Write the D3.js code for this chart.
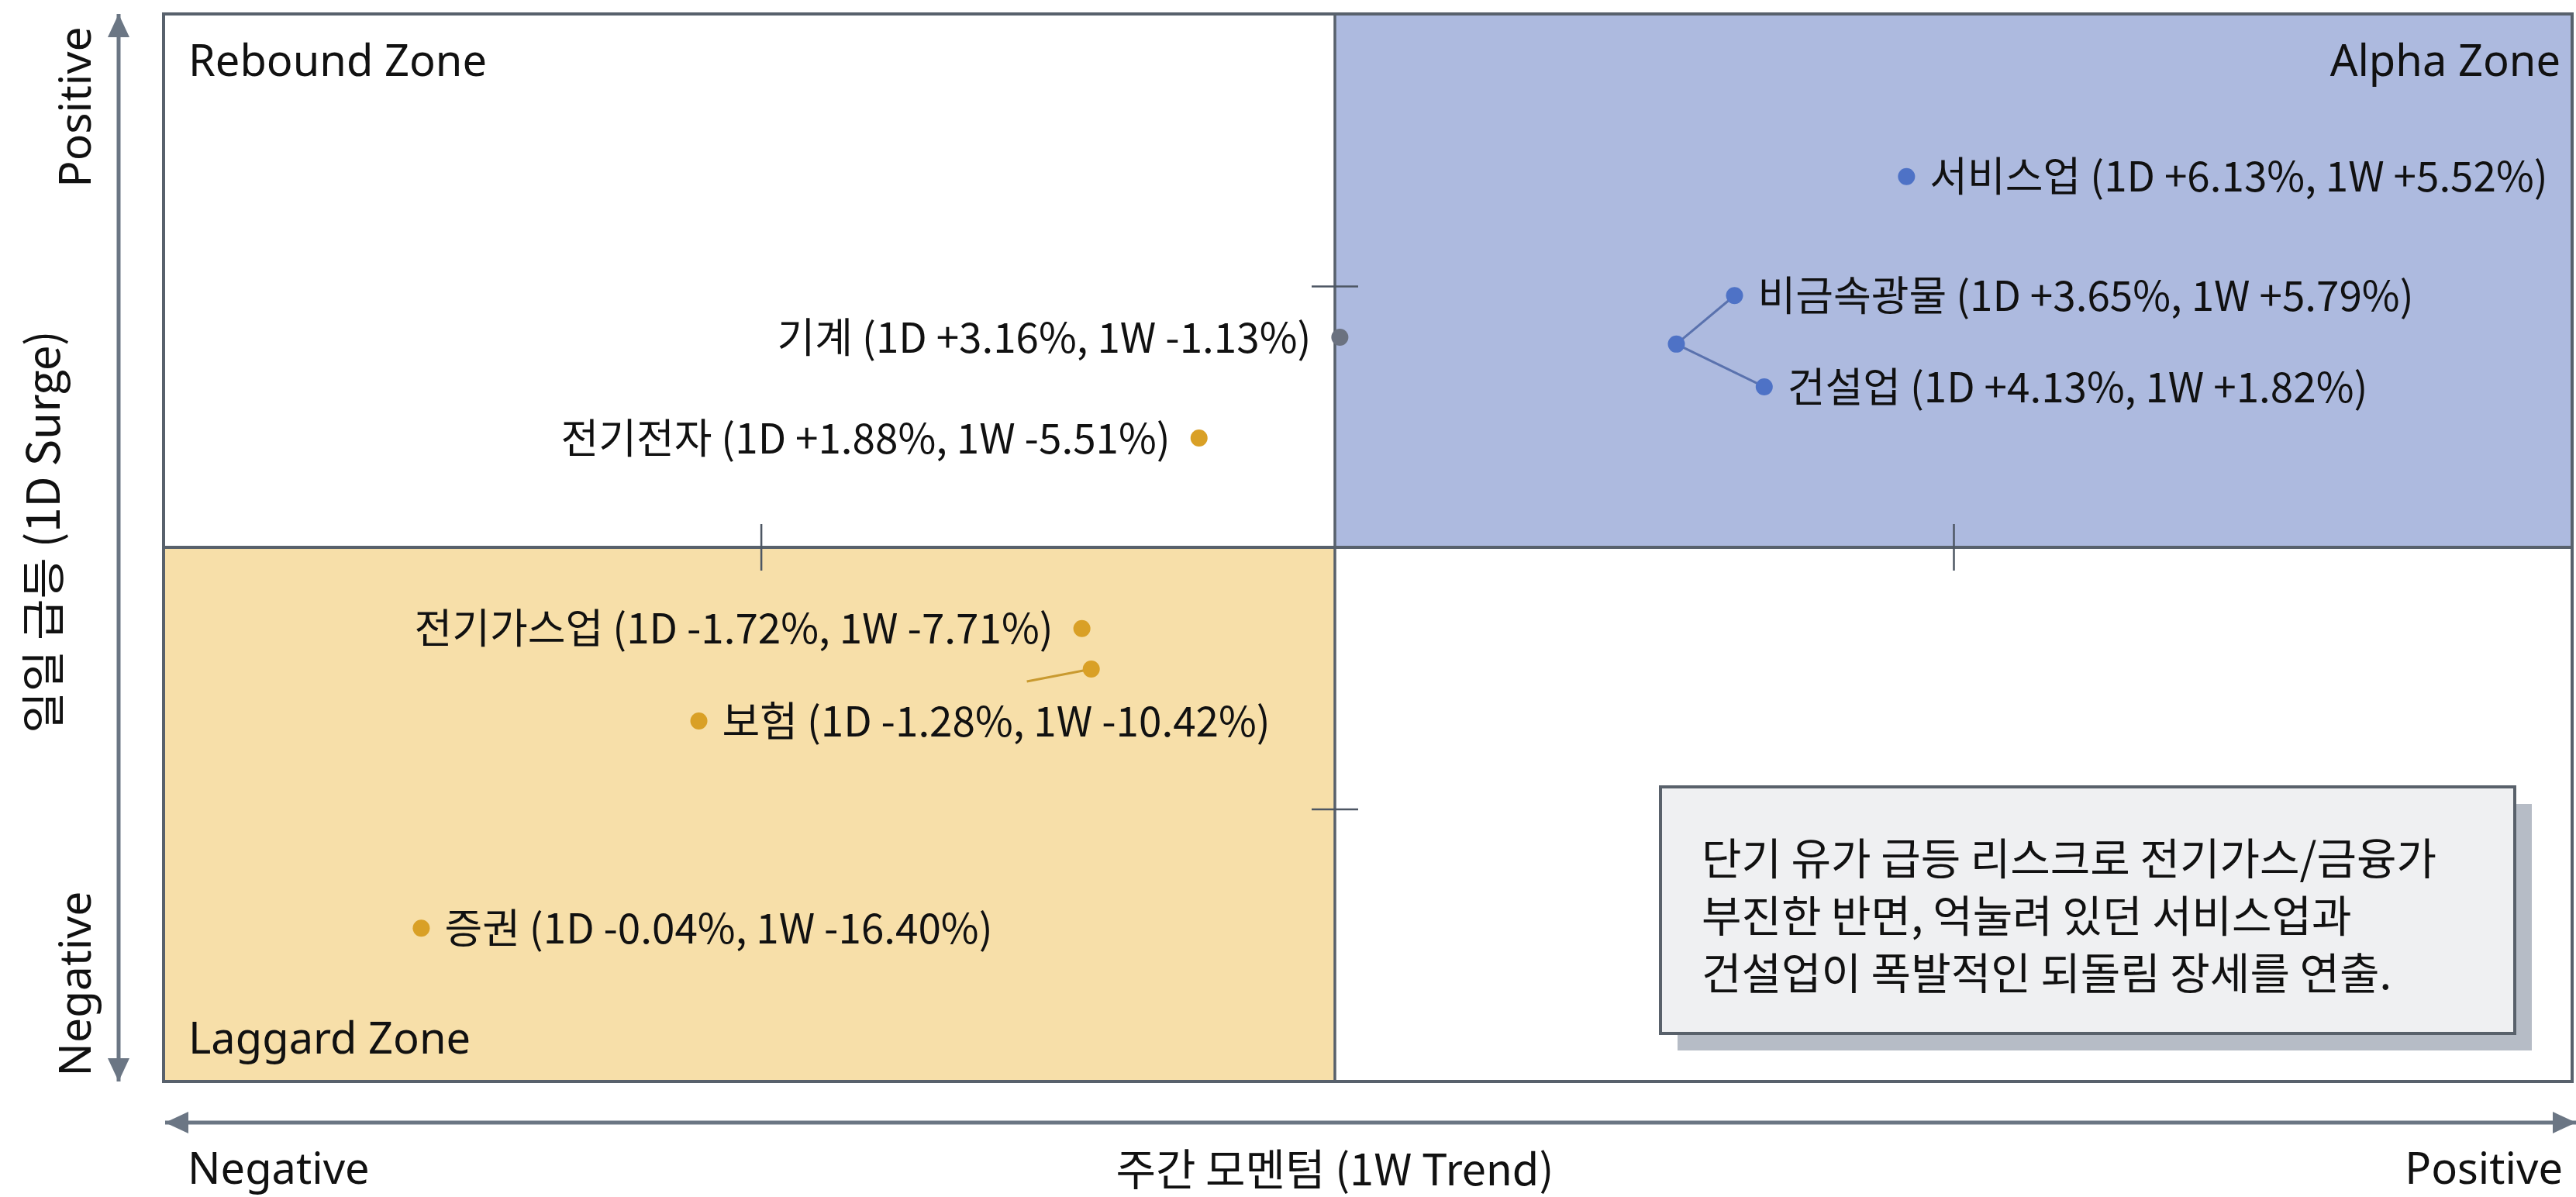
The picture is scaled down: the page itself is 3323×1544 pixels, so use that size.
<!DOCTYPE html>
<html>
<head>
<meta charset="utf-8">
<script src="https://cdn.jsdelivr.net/npm/d3@7"></script>
<style>
  body { margin: 0; background: #fff; }
</style>
</head>
<body>
<script>
// sector moves shown in the labels
const sectors = ["서비스업", "비금속광물", "건설업", "기계", "전기전자", "전기가스업", "보험", "증권"];
const oneDay  = ["+6.13", "+3.65", "+4.13", "+3.16", "+1.88", "-1.72", "-1.28", "-0.04"];
const oneWeek = ["+5.52", "+5.79", "+1.82", "-1.13", "-5.51", "-7.71", "-10.42", "-16.40"];

// where each marker sits on the map, in quadrant units (-1..1, 0 = divider)
const trendPos = [0.462, 0.323, 0.347, 0.004, -0.116, -0.216, -0.208, -0.780];
const surgePos = [0.695, 0.472, 0.301, 0.394, 0.205, -0.152, -0.228, -0.713];
const labelSide = ["right", "right", "right", "left", "left", "left", "right", "right"];
const tone = ["alpha", "alpha", "alpha", "flat", "lag", "lag", "lag", "lag"];

// 보험 is labelled away from its marker (bullet + short leader)
const labelTrend = [null, null, null, null, null, null, -0.543, null];
const labelSurge = [null, null, null, null, null, null, -0.325, null];
const leaderEnd = [null, null, null, null, null, null, [-0.263, -0.251], null];

// 비금속광물 / 건설업 share a callout joint
const jointPos = [0.276, 0.381];
const jointLinks = [1, 2];

const zoneNames = ["Rebound Zone", "Alpha Zone", "Laggard Zone"];
const quarterTicks = [-0.49, 0.5];
const axisWords = ["Negative", "Positive"];
const xTitle = "주간 모멘텀 (1W Trend)";
const yTitle = "일일 급등 (1D Surge)";
const noteLines = [
  "단기 유가 급등 리스크로 전기가스/금융가",
  "부진한 반면, 억눌려 있던 서비스업과",
  "건설업이 폭발적인 되돌림 장세를 연출."
];

const W = 3323, H = 1544;
const ink = "#111";
const lineCol = "#58616c";
const arrowCol = "#6b7684";
const toneColor = { alpha: "#4e72c6", flat: "#6b7280", lag: "#d9a026" };
const linkColor = { alpha: "#5a72ae", lag: "#c99a30" };
const latin = "'Noto Sans', 'Open Sans', sans-serif";
const korean = "'Noto Sans CJK KR', 'Noto Sans', sans-serif";

const svg = d3.select("body").append("svg")
  .attr("width", W)
  .attr("height", H)
  .attr("style", "background:white;");

const x = d3.scaleLinear().domain([-1, 0, 1]).range([211, 1722, 3318]);
const y = d3.scaleLinear().domain([-1, 0, 1]).range([1395, 706, 18]);

// quadrant fills
svg.append("rect")
  .attr("x", x(0)).attr("y", y(1))
  .attr("width", x(1) - x(0)).attr("height", y(0) - y(1))
  .attr("fill", "#adbadf");
svg.append("rect")
  .attr("x", x(-1)).attr("y", y(0))
  .attr("width", x(0) - x(-1)).attr("height", y(-1) - y(0))
  .attr("fill", "#f7dfa9");

// dividers + frame
svg.append("line")
  .attr("x1", x(-1)).attr("x2", x(1)).attr("y1", y(0)).attr("y2", y(0))
  .attr("stroke", lineCol).attr("stroke-width", 4);
svg.append("line")
  .attr("x1", x(0)).attr("x2", x(0)).attr("y1", y(1)).attr("y2", y(-1))
  .attr("stroke", lineCol).attr("stroke-width", 3.5);
svg.append("rect")
  .attr("x", x(-1)).attr("y", y(1))
  .attr("width", x(1) - x(-1)).attr("height", y(-1) - y(1))
  .attr("fill", "none").attr("stroke", lineCol).attr("stroke-width", 4);

// quarter ticks across the dividers
svg.append("g")
  .attr("transform", `translate(0,${y(0) - 30})`)
  .call(d3.axisBottom(x).tickValues(quarterTicks).tickSize(60).tickFormat(""))
  .call(g => g.select(".domain").remove())
  .call(g => g.selectAll("line").attr("stroke", "#4d5663").attr("stroke-width", 2.5));
svg.append("g")
  .attr("transform", `translate(${x(0) - 30},0)`)
  .call(d3.axisRight(y).tickValues([-0.49, 0.49]).tickSize(60).tickFormat(""))
  .call(g => g.select(".domain").remove())
  .call(g => g.selectAll("line").attr("stroke", "#4d5663").attr("stroke-width", 2.5));

// double-headed axis arrows
svg.append("defs").append("marker")
  .attr("id", "head")
  .attr("viewBox", "0 0 30 28")
  .attr("refX", 30).attr("refY", 14)
  .attr("markerWidth", 30).attr("markerHeight", 28)
  .attr("markerUnits", "userSpaceOnUse")
  .attr("orient", "auto-start-reverse")
  .append("path").attr("d", "M0,0L30,14L0,28Z").attr("fill", arrowCol);

svg.append("line")
  .attr("x1", 153).attr("x2", 153).attr("y1", y(1)).attr("y2", y(-1))
  .attr("stroke", arrowCol).attr("stroke-width", 5)
  .attr("marker-start", "url(#head)").attr("marker-end", "url(#head)");
svg.append("line")
  .attr("x1", x(-1) + 2).attr("x2", W).attr("y1", 1448).attr("y2", 1448)
  .attr("stroke", arrowCol).attr("stroke-width", 5)
  .attr("marker-start", "url(#head)").attr("marker-end", "url(#head)");

// zone names
svg.append("text").attr("x", x(-1) + 32).attr("y", 98)
  .attr("font-family", latin).attr("font-size", 56).attr("fill", ink)
  .text(zoneNames[0]);
svg.append("text").attr("x", x(1) - 15).attr("y", 98).attr("text-anchor", "end")
  .attr("font-family", latin).attr("font-size", 56).attr("fill", ink)
  .text(zoneNames[1]);
svg.append("text").attr("x", x(-1) + 32).attr("y", 1359)
  .attr("font-family", latin).attr("font-size", 56).attr("fill", ink)
  .text(zoneNames[2]);

// axis words
svg.append("text")
  .attr("transform", "translate(117,138) rotate(-90)").attr("text-anchor", "middle")
  .attr("font-family", latin).attr("font-size", 57).attr("fill", ink)
  .text(axisWords[1]);
svg.append("text")
  .attr("transform", "translate(117,1269) rotate(-90)").attr("text-anchor", "middle")
  .attr("font-family", latin).attr("font-size", 57).attr("fill", ink)
  .text(axisWords[0]);
svg.append("text")
  .attr("transform", "translate(77,686) rotate(-90)").attr("text-anchor", "middle")
  .attr("font-family", korean).attr("font-size", 58).attr("fill", ink)
  .text(yTitle);
svg.append("text").attr("x", 242).attr("y", 1527)
  .attr("font-family", latin).attr("font-size", 56).attr("fill", ink)
  .text(axisWords[0]);
svg.append("text").attr("x", 3306).attr("y", 1527).attr("text-anchor", "end")
  .attr("font-family", latin).attr("font-size", 56).attr("fill", ink)
  .text(axisWords[1]);
svg.append("text").attr("x", x(0)).attr("y", 1529).attr("text-anchor", "middle")
  .attr("font-family", korean).attr("font-size", 56).attr("fill", ink)
  .text(xTitle);

// rows of sector data
const rows = sectors.map((s, i) => ({
  name: s,
  label: `${s} (1D ${oneDay[i]}%, 1W ${oneWeek[i]}%)`,
  tx: trendPos[i], sy: surgePos[i],
  lx: labelTrend[i] ?? trendPos[i], ly: labelSurge[i] ?? surgePos[i],
  side: labelSide[i], tone: tone[i], leader: leaderEnd[i]
}));

// callout joint links
const linkG = svg.append("g");
jointLinks.forEach(i => {
  linkG.append("line")
    .attr("x1", x(jointPos[0])).attr("y1", y(jointPos[1]))
    .attr("x2", x(rows[i].tx)).attr("y2", y(rows[i].sy))
    .attr("stroke", linkColor.alpha).attr("stroke-width", 3);
});
rows.filter(d => d.leader).forEach(d => {
  linkG.append("line")
    .attr("x1", x(d.tx)).attr("y1", y(d.sy))
    .attr("x2", x(d.leader[0])).attr("y2", y(d.leader[1]))
    .attr("stroke", linkColor.lag).attr("stroke-width", 3);
});
linkG.append("circle")
  .attr("cx", x(jointPos[0])).attr("cy", y(jointPos[1])).attr("r", 11)
  .attr("fill", toneColor.alpha);

// markers
svg.append("g").selectAll("circle")
  .data(rows)
  .join("circle")
  .attr("cx", d => x(d.tx))
  .attr("cy", d => y(d.sy))
  .attr("r", 11)
  .attr("fill", d => toneColor[d.tone]);

// label bullets for labels placed away from the marker
svg.append("g").selectAll("circle")
  .data(rows.filter(d => d.lx !== d.tx))
  .join("circle")
  .attr("cx", d => x(d.lx))
  .attr("cy", d => y(d.ly))
  .attr("r", 11)
  .attr("fill", d => toneColor[d.tone]);

svg.append("g").selectAll("text")
  .data(rows)
  .join("text")
  .attr("x", d => d.side === "right" ? x(d.lx) + 30 : x(d.lx) - 37)
  .attr("y", d => y(d.ly))
  .attr("dy", "0.37em")
  .attr("text-anchor", d => d.side === "right" ? "start" : "end")
  .attr("font-family", korean)
  .attr("font-size", 53)
  .attr("fill", ink)
  .text(d => d.label);

// note box with offset shadow
const note = svg.append("g");
note.append("rect")
  .attr("x", 2164).attr("y", 1037).attr("width", 1102).attr("height", 318)
  .attr("fill", "#b6bcc6");
note.append("rect")
  .attr("x", 2142).attr("y", 1015).attr("width", 1102).attr("height", 318)
  .attr("fill", "#eff0f2").attr("stroke", "#59616b").attr("stroke-width", 4);
note.selectAll("text")
  .data(noteLines)
  .join("text")
  .attr("x", 2195)
  .attr("y", (d, i) => 1128 + i * 74)
  .attr("font-family", korean)
  .attr("font-size", 56)
  .attr("fill", ink)
  .text(d => d);
</script>
</body>
</html>
